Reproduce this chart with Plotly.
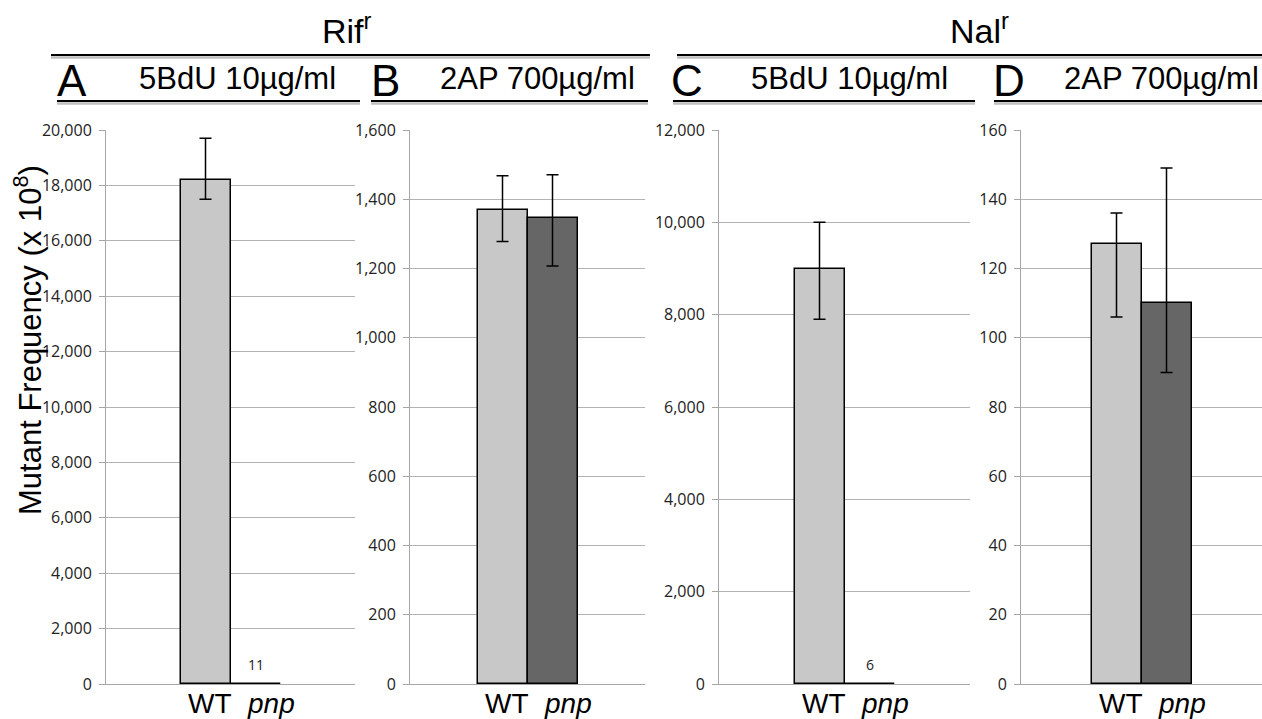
import plotly.graph_objects as go

# ---- data ----
categories = ["WT", "pnp"]
tick_labels = ["WT", "<i>pnp</i>"]
panel_letters = ["A", "B", "C", "D"]
panel_treatments = ["5BdU 10µg/ml", "2AP 700µg/ml", "5BdU 10µg/ml", "2AP 700µg/ml"]
group_titles = ["Rif<sup>r</sup>", "Nal<sup>r</sup>"]

vals_A = [18200, 11]
plus_A = [1500, None]
minus_A = [700, None]

vals_B = [1370, 1345]
plus_B = [98, 126]
minus_B = [92, 138]

vals_C = [9000, 6]
plus_C = [1000, None]
minus_C = [1100, None]

vals_D = [127, 110]
plus_D = [9, 39]
minus_D = [21, 20]

y_max = [20000, 1600, 12000, 160]
y_dtick = [2000, 200, 2000, 20]
bar_labels = [["", "11"], ["", ""], ["", "6"], ["", ""]]

bar_colors = ["#c8c8c8", "#666666"]

# ---- layout helpers ----
W, H = 1262, 719
def px(x):
    return x / W
def py(y):
    return 1 - y / H

# plot area pixel extents per panel (left, right)
panel_px = [(106, 355), (410, 645), (719, 970), (1021, 1262)]
plot_top, plot_bottom = 130, 684
label_shift = [4, 15]   # horizontal nudge of category labels (px)

fig = go.Figure()
series = [(vals_A, plus_A, minus_A), (vals_B, plus_B, minus_B),
          (vals_C, plus_C, minus_C), (vals_D, plus_D, minus_D)]

tick_font = dict(family="Open Sans, Liberation Sans, sans-serif", size=16, color="#222222")
label_font = dict(family="Liberation Sans, Arial, sans-serif", size=28, color="black")

for i, (v, p, m) in enumerate(series):
    n = "" if i == 0 else str(i + 1)
    fig.add_trace(go.Bar(
        x=categories, y=v, width=[1, 1],
        marker=dict(color=bar_colors, line=dict(color="black", width=1.5)),
        error_y=dict(type="data", symmetric=False, array=p, arrayminus=m,
                     color="black", thickness=1.5, width=6),
        xaxis="x" + n, yaxis="y" + n, showlegend=False,
    ))
    left, right = panel_px[i]
    h = (right - left) / 100.0
    fig.update_layout(**{
        "xaxis" + n: dict(
            domain=[px(left), px(right)], anchor="y" + n, type="category",
            range=[0.5 - h, 0.5 + h], showgrid=False, showline=True,
            linecolor="#a6a6a6", linewidth=1, ticks="",
            showticklabels=False, automargin=False, fixedrange=True,
        ),
        "yaxis" + n: dict(
            domain=[py(plot_bottom), py(plot_top)], anchor="x" + n,
            range=[0, y_max[i]], dtick=y_dtick[i], tickformat=",",
            showline=True, linecolor="#a6a6a6", linewidth=1,
            showgrid=True, gridcolor="#b3b3b3", gridwidth=1,
            zeroline=False, ticks="outside", ticklen=6, tickcolor="#a6a6a6",
            tickfont=tick_font, ticklabelstandoff=4, automargin=False,
        ),
    })
    # category labels under the bars
    for cat, txt, sh in zip(categories, tick_labels, label_shift):
        fig.add_annotation(x=cat, y=py(703), xref="x" + n, yref="paper",
                           text=txt, showarrow=False, xanchor="center",
                           yanchor="middle", xshift=sh, font=label_font)
    for cat, val, lab in zip(categories, v, bar_labels[i]):
        if lab:
            fig.add_annotation(x=cat, y=val, xref="x" + n, yref="y" + n,
                               text=lab, showarrow=False, yanchor="bottom",
                               yshift=8, font=dict(family="Open Sans, sans-serif",
                                                   size=14, color="#222222"))

# header lines (with soft shadow)
def hline(x0, x1, y):
    fig.add_shape(type="line", xref="paper", yref="paper",
                  x0=px(x0), x1=px(x1), y0=py(y + 2.5), y1=py(y + 2.5),
                  line=dict(color="rgba(0,0,0,0.25)", width=2.5))
    fig.add_shape(type="line", xref="paper", yref="paper",
                  x0=px(x0), x1=px(x1), y0=py(y), y1=py(y),
                  line=dict(color="black", width=2))

hline(51, 650, 55)
hline(677, 1262, 55)
for x0, x1 in [(57, 360), (371, 648), (673, 975), (994, 1262)]:
    hline(x0, x1, 101)

title_font = dict(family="Liberation Sans, Arial, sans-serif", size=34, color="black")
for txt, cx in zip(group_titles, [347, 979]):
    fig.add_annotation(x=px(cx), y=py(29), xref="paper", yref="paper", text=txt,
                       showarrow=False, font=title_font, xanchor="center", yanchor="middle")

letter_font = dict(family="Liberation Sans, Arial, sans-serif", size=44, color="black")
sub_font = dict(family="Liberation Sans, Arial, sans-serif", size=31, color="black")
letter_x = [72, 385, 687, 1009]
sub_x = [237, 537, 850, 1161]
for L, T, lx, sx in zip(panel_letters, panel_treatments, letter_x, sub_x):
    fig.add_annotation(x=px(lx), y=py(81), xref="paper", yref="paper", text=L,
                       showarrow=False, font=letter_font, xanchor="center", yanchor="middle")
    fig.add_annotation(x=px(sx), y=py(79), xref="paper", yref="paper", text=T,
                       showarrow=False, font=sub_font, xanchor="center", yanchor="middle")

fig.add_annotation(x=px(28), y=py(340), xref="paper", yref="paper",
                   text="Mutant Frequency (x 10<sup>8</sup>)", textangle=-90,
                   showarrow=False, xanchor="center", yanchor="middle",
                   font=dict(family="Liberation Sans, Arial, sans-serif", size=31, color="black"))

fig.update_layout(width=W, height=H, margin=dict(l=0, r=0, t=0, b=0),
                  paper_bgcolor="white", plot_bgcolor="white", bargap=0)

fig.write_html("out.html")
